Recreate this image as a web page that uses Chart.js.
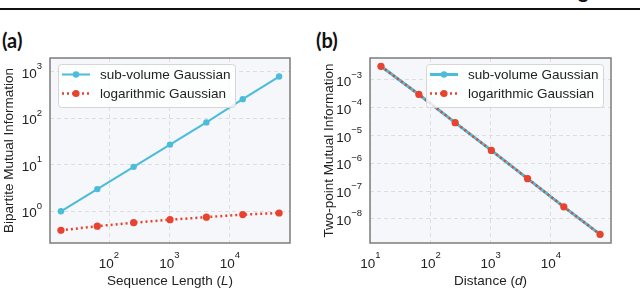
<!DOCTYPE html>
<html>
<head>
<meta charset="utf-8">
<script src="https://cdn.jsdelivr.net/npm/chart.js@4.4.1/dist/chart.umd.min.js"></script>
<style>
  body { margin: 0; background: #fff; width: 640px; height: 289px; position: relative; overflow: hidden; }
  .rule { position: absolute; left: 0; top: 8px; width: 640px; height: 2px; background: #111; }
  .frag { position: absolute; left: 578px; top: -22px; font: bold 20px Lato, sans-serif; line-height: 24px; color: #111; }
  .tag { position: absolute; top: 28px; font: bold 20px Lato, "Open Sans", sans-serif; color: #111; line-height: 24px; }
  .panel { position: absolute; top: 0; width: 320px; height: 289px; }
</style>
</head>
<body>
<div class="frag">g</div>
<div class="rule"></div>
<div class="tag" style="left:2px">(a)</div>
<div class="tag" style="left:316px">(b)</div>
<div class="panel" style="left:0"><canvas id="chartA" width="320" height="289"></canvas></div>
<div class="panel" style="left:320px"><canvas id="chartB" width="320" height="289"></canvas></div>
<script>
// values
const seriesNames = ['sub-volume Gaussian', 'logarithmic Gaussian'];

const lengthsA = [16, 64, 256, 1024, 4096, 16384, 65536];
const subVolumeA = [1.0, 3.0, 9.0, 27, 81, 255, 780];
const logarithmicA = [0.39, 0.48, 0.57, 0.66, 0.75, 0.85, 0.92];

const distancesB = [15, 64, 256, 1024, 4096, 16384, 65536];
const subVolumeB = [3.1e-3, 3.0e-4, 2.9e-5, 2.9e-6, 2.8e-7, 2.7e-8, 2.75e-9];
const logarithmicB = [3.1e-3, 3.0e-4, 2.9e-5, 2.9e-6, 2.8e-7, 2.7e-8, 2.75e-9];

const xTicksA = [1e2, 1e3, 1e4];
const yTicksA = [1e0, 1e1, 1e2, 1e3];
const xTicksB = [1e1, 1e2, 1e3, 1e4];
const yTicksB = [1e-3, 1e-4, 1e-5, 1e-6, 1e-7, 1e-8];

const BLUE = '#4bbcd9';
const RED = '#e8432f';
const FONT = '"Liberation Sans", Arial, sans-serif';

function pts(xs, ys) {
    return xs.map((x, i) => ({x: x, y: ys[i]}));
}

function expText(v) {
    const e = Math.round(Math.log10(v));
    return e < 0 ? '\u2212' + (-e) : String(e);
}

// draws frame, tick labels, titles and legend inside the canvas
const panelDeco = {
    id: 'panelDeco',
    beforeDraw(chart) {
        const {ctx, chartArea: a} = chart;
        ctx.save();
        ctx.fillStyle = '#f5f7fb';
        ctx.fillRect(a.left, a.top, a.right - a.left, a.bottom - a.top);
        ctx.restore();
    },
    afterDraw(chart, args, o) {
        const {ctx, chartArea: a} = chart;
        const xs = chart.scales.x, ys = chart.scales.y;
        ctx.save();

        // frame
        ctx.strokeStyle = '#7c7c7c';
        ctx.lineWidth = 1.5;
        ctx.strokeRect(a.left, a.top, a.right - a.left, a.bottom - a.top);

        ctx.fillStyle = '#222';
        ctx.textBaseline = 'alphabetic';
        // x tick labels
        o.xTicks.forEach(t => {
            const px = xs.getPixelForValue(t);
            const ex = expText(t);
            ctx.font = '13.5px ' + FONT;
            const w1 = ctx.measureText('10').width;
            ctx.font = '9.5px ' + FONT;
            const w2 = ctx.measureText(ex).width;
            const s = px - (w1 + w2) / 2;
            ctx.textAlign = 'left';
            ctx.font = '13.5px ' + FONT;
            ctx.fillText('10', s, 268);
            ctx.font = '9.5px ' + FONT;
            ctx.fillText(ex, s + w1, 257.5);
        });
        // y tick labels
        o.yTicks.forEach(t => {
            const py = ys.getPixelForValue(t);
            const ex = expText(t);
            const r = a.left - 8;
            ctx.textAlign = 'right';
            ctx.font = '9.5px ' + FONT;
            const w2 = ctx.measureText(ex).width;
            ctx.fillText(ex, r, py - 2.4);
            ctx.font = '13.5px ' + FONT;
            ctx.fillText('10', r - w2, py + 6);
        });

        // x title, with italic symbol
        const cx = (a.left + a.right) / 2;
        ctx.textAlign = 'left';
        const parts = o.xTitle;
        let total = 0;
        parts.forEach(p => {
            ctx.font = (p[1] ? 'italic ' : '') + '13.5px ' + FONT;
            total += ctx.measureText(p[0]).width;
        });
        let x = cx - total / 2;
        parts.forEach(p => {
            ctx.font = (p[1] ? 'italic ' : '') + '13.5px ' + FONT;
            ctx.fillText(p[0], x, 285);
            x += ctx.measureText(p[0]).width;
        });

        // y title
        ctx.save();
        ctx.translate(12.5, (a.top + a.bottom) / 2);
        ctx.rotate(-Math.PI / 2);
        ctx.textAlign = 'center';
        ctx.font = '13.5px ' + FONT;
        ctx.fillText(o.yTitle, 0, 0);
        ctx.restore();

        // legend
        const bx = a.left + o.legendX, by = a.top + 6, bw = 177, bh = 43;
        ctx.beginPath();
        ctx.roundRect(bx + 0.5, by + 0.5, bw, bh, 3);
        ctx.fillStyle = 'rgba(255,255,255,0.8)';
        ctx.fill();
        ctx.strokeStyle = '#d6d6d6';
        ctx.lineWidth = 1;
        ctx.stroke();
        chart.data.datasets.forEach((ds, i) => {
            const ly = by + 10.5 + i * 19;
            ctx.save();
            ctx.strokeStyle = ds.borderColor;
            ctx.lineWidth = ds.borderWidth;
            ctx.setLineDash(ds.borderDash || []);
            ctx.beginPath();
            ctx.moveTo(bx + 4, ly);
            ctx.lineTo(bx + 32, ly);
            ctx.stroke();
            ctx.setLineDash([]);
            ctx.fillStyle = ds.pointBackgroundColor;
            ctx.beginPath();
            ctx.arc(bx + 18, ly, ds.pointRadius, 0, Math.PI * 2);
            ctx.fill();
            ctx.restore();
            ctx.fillStyle = '#222';
            ctx.textAlign = 'left';
            ctx.textBaseline = 'middle';
            ctx.font = '13.5px ' + FONT;
            ctx.fillText(ds.label, bx + 42, ly + 0.5);
            ctx.textBaseline = 'alphabetic';
        });
        ctx.restore();
    }
};

function makeChart(id, d, opts) {
    return new Chart(document.getElementById(id), {
        type: 'line',
        data: {
            datasets: [{
                label: seriesNames[0],
                data: pts(d.xs, d.blue),
                borderColor: BLUE,
                backgroundColor: BLUE,
                pointBackgroundColor: BLUE,
                borderWidth: opts.blueWidth,
                pointRadius: 3.2,
                pointBorderWidth: 0,
                order: 1
            }, {
                label: seriesNames[1],
                data: pts(d.xs, d.red),
                borderColor: RED,
                backgroundColor: RED,
                pointBackgroundColor: RED,
                borderWidth: 2.5,
                borderDash: [2, 3],
                pointRadius: 3.6,
                pointBorderWidth: 0,
                order: 0
            }]
        },
        options: {
            responsive: false,
            devicePixelRatio: 1,
            animation: false,
            layout: { padding: { top: 58, right: opts.right, left: 0, bottom: 0 } },
            plugins: {
                legend: { display: false },
                tooltip: { enabled: false },
                panelDeco: opts.deco
            },
            scales: {
                x: {
                    type: 'logarithmic',
                    bounds: 'data',
                    min: opts.xMin, max: opts.xMax,
                    afterBuildTicks: s => { s.ticks = opts.deco.xTicks.map(v => ({value: v})); },
                    afterFit: s => { s.height = 46; },
                    ticks: { display: false },
                    grid: { color: '#dedede', lineWidth: 1, drawTicks: false },
                    border: { display: false, dash: [4, 3] }
                },
                y: {
                    type: 'logarithmic',
                    bounds: 'data',
                    min: opts.yMin, max: opts.yMax,
                    afterBuildTicks: s => { s.ticks = opts.deco.yTicks.map(v => ({value: v})); },
                    afterFit: s => { s.width = 50; },
                    ticks: { display: false },
                    grid: { color: '#dedede', lineWidth: 1, drawTicks: false },
                    border: { display: false, dash: [4, 3] }
                }
            }
        },
        plugins: [panelDeco]
    });
}

makeChart('chartA', {xs: lengthsA, blue: subVolumeA, red: logarithmicA}, {
    right: 30, blueWidth: 2,
    xMin: Math.pow(10, 1.023), xMax: Math.pow(10, 4.997),
    yMin: Math.pow(10, -0.68), yMax: Math.pow(10, 3.29),
    deco: { xTicks: xTicksA, yTicks: yTicksA, legendX: 8,
            xTitle: [['Sequence Length (', false], ['L', true], [')', false]],
            yTitle: 'Bipartite Mutual Information' }
});

makeChart('chartB', {xs: distancesB, blue: subVolumeB, red: logarithmicB}, {
    right: 29, blueWidth: 3,
    xMin: Math.pow(10, 0.994), xMax: Math.pow(10, 4.998),
    yMin: Math.pow(10, -8.87), yMax: Math.pow(10, -2.21),
    deco: { xTicks: xTicksB, yTicks: yTicksB, legendX: 56,
            xTitle: [['Distance (', false], ['d', true], [')', false]],
            yTitle: 'Two-point Mutual Information' }
});
</script>
</body>
</html>
